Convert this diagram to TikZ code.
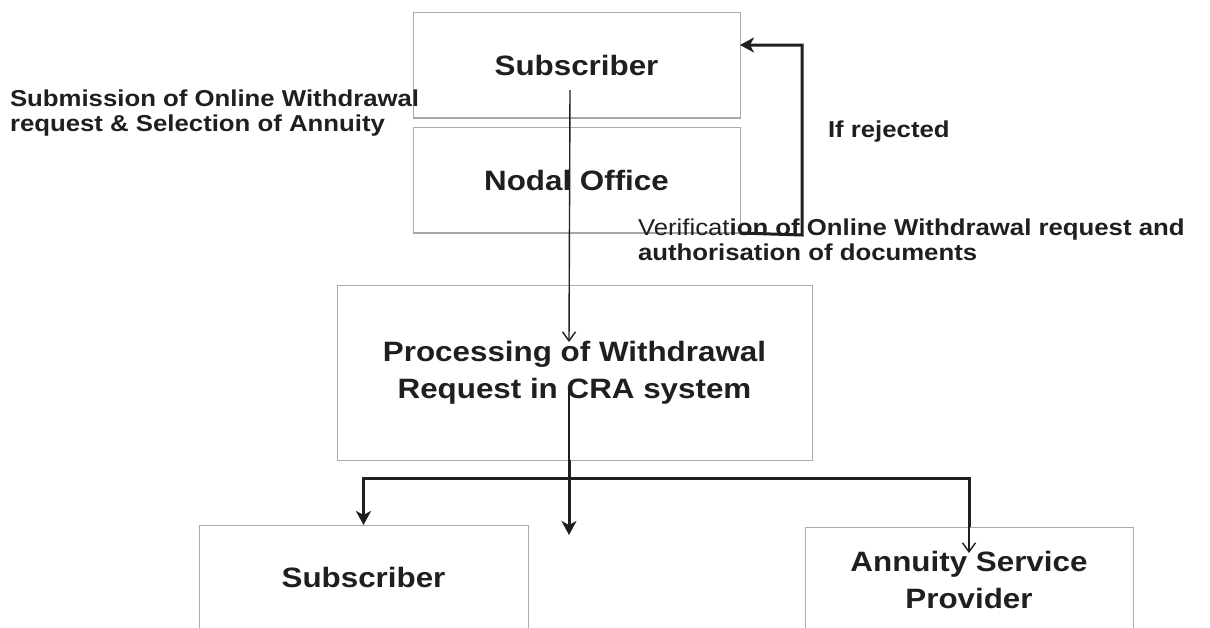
\documentclass[tikz,border=0pt]{standalone}
\usepackage{fontspec}
\setmainfont{Liberation Sans}[FakeStretch=1.12]
\usetikzlibrary{arrows.meta,calc}

\begin{document}
\begin{tikzpicture}[x=1pt,y=-1pt,
  ink/.style={black!88},
  box/.style={draw=gray!65, line width=1pt, inner sep=0pt, outer sep=0pt,
    align=center, text=black!88, font=\fontsize{28}{37}\selectfont\bfseries},
  note/.style={inner sep=0pt, outer sep=0pt, align=left, text=black!88,
    font=\fontsize{23}{24.5}\selectfont\bfseries},
  heavy/.style={draw=black!88, line width=3pt},
  heavyarrow/.style={heavy, -{Stealth[length=14pt, width=15pt, inset=4pt]}},
  fine/.style={draw=black!88, line width=1.4pt},
  finearrow/.style={fine, -{Straight Barb[length=9pt, width=13pt]}},
  shade/.style={draw=gray!70, line width=2.6pt}
]
\useasboundingbox (0,0) rectangle (1210,627);
\clip (0,0) rectangle (1210,627);

% boxes
\node[box, minimum width=327pt, minimum height=106pt] (sub1) at (576.5,65) {Subscriber};
\node[box, minimum width=327pt, minimum height=106pt] (nodal) at (576.5,180) {Nodal Office};
\node[box, minimum width=475pt, minimum height=175pt] (proc) at (574.5,372.5)
  {Processing of Withdrawal\\Request in CRA system};
\node[box, minimum width=329pt, minimum height=104pt] (sub2) at (363.5,577) {Subscriber};
\node[box, minimum width=328pt, minimum height=106pt] (asp) at (969,580)
  {Annuity Service\\Provider};

% heavier lower edges of the two upper boxes
\draw[shade] (sub1.south west) -- (sub1.south east);
\draw[shade] (nodal.south west) -- (nodal.south east);

% side notes
\node[note, anchor=west] (submit) at (10,113)
  {Submission of Online Withdrawal\\request \& Selection of Annuity};
\node[note, anchor=west] (rejected) at (828,132) {If rejected};
\node[note, anchor=west] (verify) at (638,240)
  {\mdseries Verificat\bfseries ion of Online Withdrawal request and\\authorisation of documents};

% main flow downwards
\coordinate (c1) at ($(sub1.center)+(-6.5,25)$);
\coordinate (c2) at ($(proc.center)+(-5.5,-30.5)$);
\draw[finearrow] (c1) -- (c2);

\coordinate (c3) at ($(proc.center)+(-5.5,15.5)$);
\coordinate (exit) at (c3 |- proc.south);
\coordinate (split) at ($(exit)+(0,18)$);
\coordinate (drop) at ($(exit)+(0,75)$);
\draw[fine] (c3) -- (exit);
\draw[heavyarrow] (exit) -- (drop);

% branches
\draw[heavyarrow] (split) -| (sub2.north);
\draw[heavy] (split) -| (asp.north);
\coordinate (asptip) at ($(asp.north)+(0,26)$);
\draw[finearrow] (asp.north) -- (asptip);

% rejection loop back to the subscriber
\coordinate (back) at ($(sub1.north east)+(0,33)$);
\draw[heavyarrow] (nodal.south east) -- ++(62,2) |- (back);
\end{tikzpicture}
\end{document}
